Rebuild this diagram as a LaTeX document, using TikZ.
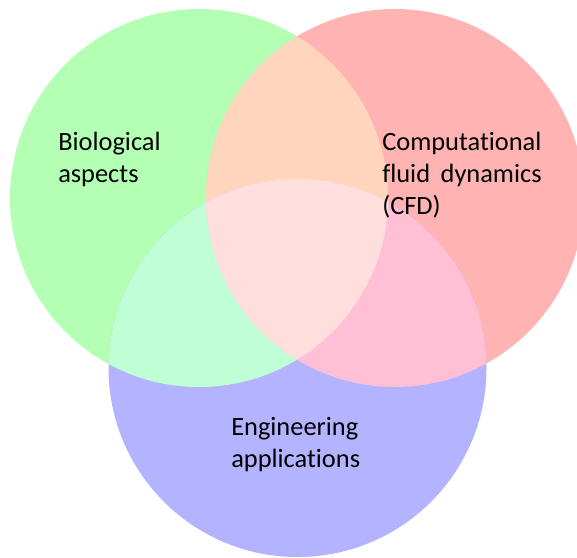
\documentclass[tikz,border=0pt]{standalone}
\usepackage{fontspec}
\setmainfont[Ligatures=NoCommon]{Carlito}
\usepackage{tikz}
\usetikzlibrary{positioning}
\definecolor{bioclr}{HTML}{B3FFB3}
\definecolor{cfdclr}{HTML}{FFB3B3}
\definecolor{engclr}{HTML}{B3B3FF}
\definecolor{biocfdclr}{HTML}{FFD6BD}
\definecolor{bioengclr}{HTML}{C0FFD6}
\definecolor{cfdengclr}{HTML}{FFBFD5}
\definecolor{allclr}{HTML}{FFDEDE}
\tikzset{
	set label/.style={
		align=left,
		anchor=base west,
		inner sep=0pt,
		font=\fontsize{19.8}{24}\selectfont
	}
}
\newcommand{\rset}{189}% radius of each set

\begin{document}
\begin{tikzpicture}[x=0.75pt, y=-0.75pt]
	\useasboundingbox (0,0) rectangle (577,557);
	\coordinate (bio) at (199,198);
	\coordinate (cfd) at (395,198);
	\coordinate (eng) at (297.5,368);

	% the three sets
	\fill[bioclr] (bio) circle (\rset);
	\fill[cfdclr] (cfd) circle (\rset);
	\fill[engclr] (eng) circle (\rset);

	% pairwise overlaps
	\begin{scope}
		\clip (bio) circle (\rset);
		\fill[biocfdclr] (cfd) circle (\rset);
		\fill[bioengclr] (eng) circle (\rset);
	\end{scope}
	\begin{scope}
		\clip (cfd) circle (\rset);
		\fill[cfdengclr] (eng) circle (\rset);
		\clip (bio) circle (\rset);
		\fill[allclr] (eng) circle (\rset);
	\end{scope}

	% anchor sits on the last line of each label
	\node[set label] (biotext) at (58,182) {Biological\\aspects};
	\node[set label] (cfdtext) at (382,214) {Computational\\fluid\hspace{0.4em}dynamics\\(CFD)};
	\node[set label] (engtext) at (231,467) {Engineering\\applications};
\end{tikzpicture}
\end{document}
